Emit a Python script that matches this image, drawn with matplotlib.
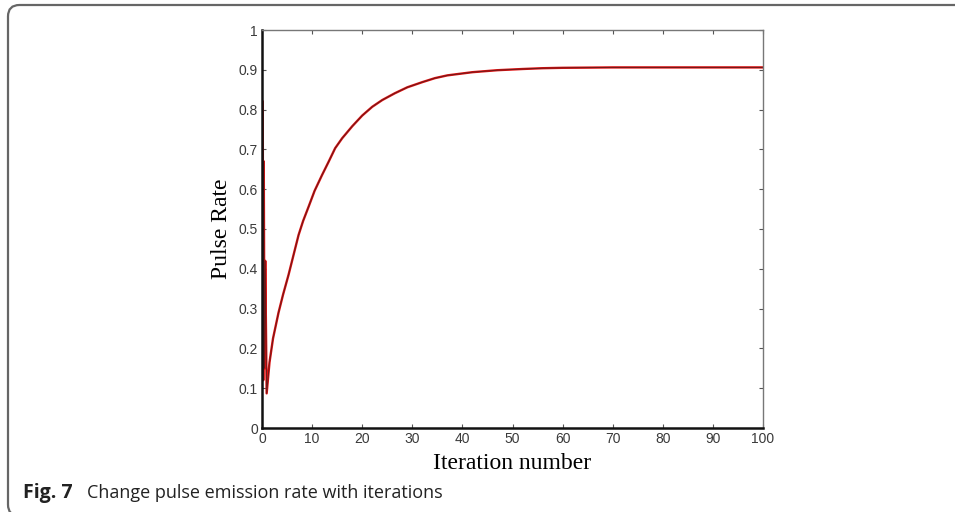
import numpy as np
import matplotlib.pyplot as plt
from matplotlib.patches import FancyBboxPatch

# pulse emission rate per iteration (first few entries are the start-up jitter)
iterations = [0.15, 0.25, 0.35, 0.5, 0.65, 0.93, 1.5, 2.2, 3.3, 4.2, 5.3, 6.2, 7.3, 8.2, 9.3,
              10.5, 12, 13.3, 14.6, 16, 18, 20, 22, 24, 26.5, 29, 32, 34.5, 37, 42, 47,
              52, 56, 60, 70, 80, 90, 100]
pulse_rate = [0.82, 0.12, 0.67, 0.15, 0.42, 0.087, 0.165, 0.225, 0.29, 0.335, 0.385, 0.43,
              0.485, 0.52, 0.556, 0.596, 0.636, 0.669, 0.703, 0.728, 0.758, 0.785, 0.807,
              0.824, 0.841, 0.856, 0.869, 0.879, 0.886, 0.894, 0.899, 0.902, 0.904, 0.905,
              0.906, 0.906, 0.906, 0.906]

x_ticks = list(range(0, 101, 10))
y_ticks = [0, 0.1, 0.2, 0.3, 0.4, 0.5, 0.6, 0.7, 0.8, 0.9, 1]
y_tick_labels = ['0', '0.1', '0.2', '0.3', '0.4', '0.5', '0.6', '0.7', '0.8', '0.9', '1']

fig = plt.figure(figsize=(9.55, 5.12), dpi=100)

# rounded frame around the figure panel (right and bottom run off the page)
frame = FancyBboxPatch((8 / 955, -4 / 512), 1.2, (512 - 1) / 512,
                       boxstyle="round,pad=0,rounding_size=0.012",
                       transform=fig.transFigure, fill=False,
                       edgecolor='#666666', linewidth=1.6, clip_on=False,
                       mutation_aspect=955 / 512)
fig.patches.append(frame)

ax = fig.add_axes([262 / 955, 1 - 428 / 512, (763 - 262) / 955, (428 - 30) / 512])
ax.plot(iterations, pulse_rate, color='#e01010', linewidth=1.7)
ax.plot(iterations, pulse_rate, color='#6a1a1a', linewidth=0.7)

ax.set_xlim(0, 100)
ax.set_ylim(0, 1)
ax.set_xticks(x_ticks)
ax.set_yticks(y_ticks)
ax.set_yticklabels(y_tick_labels)
ax.tick_params(direction='in', length=3, width=0.8, top=True, right=True,
               labelsize=10, colors='#555555', pad=3)
for lab in ax.get_xticklabels() + ax.get_yticklabels():
    lab.set_family('Liberation Sans')
    lab.set_color('#3a3a3a')

for side in ['left', 'bottom']:
    ax.spines[side].set_linewidth(1.8)
    ax.spines[side].set_color('#111111')
for side in ['top', 'right']:
    ax.spines[side].set_linewidth(1.0)
    ax.spines[side].set_color('#777777')

ax.set_xlabel('Iteration number', family='Liberation Serif', fontsize=17, labelpad=5)
ax.set_ylabel('Pulse Rate', family='Liberation Serif', fontsize=17, labelpad=5)

fig.text(23 / 955, 1 - 493 / 512, 'Fig. 7', family='Open Sans', fontweight='bold',
         fontsize=14, va='center', ha='left', color='#222222')
fig.text(87 / 955, 1 - 493 / 512, 'Change pulse emission rate with iterations',
         family='Open Sans', fontsize=13, va='center', ha='left', color='#222222')

fig.savefig('out.png', dpi=100)
